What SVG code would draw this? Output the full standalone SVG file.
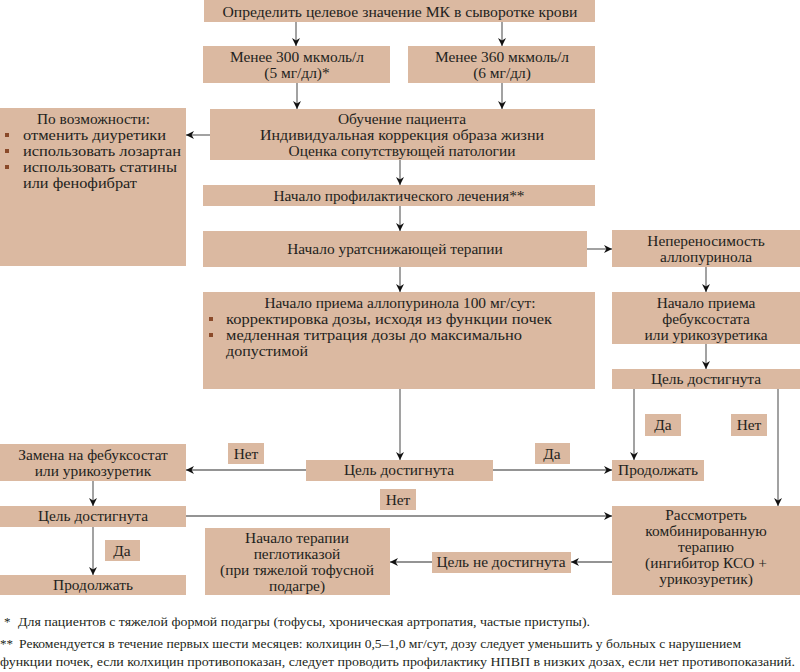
<svg xmlns="http://www.w3.org/2000/svg" width="800" height="672" viewBox="0 0 800 672">
<style>
.b{fill:#DBB9A1}
.t{font-family:"Liberation Serif","DejaVu Serif",serif;font-size:15.4px;fill:#231F20}
.c{text-anchor:middle}
.f{font-family:"Liberation Serif","DejaVu Serif",serif;font-size:13px;fill:#231F20}
.ln{stroke:#707070;stroke-width:1.3;fill:none;marker-end:url(#ah)}
.bu{fill:#8A4A2A}
</style>
<defs>
<marker id="ah" viewBox="0 0 10 10" refX="10" refY="5" markerWidth="9" markerHeight="8" markerUnits="userSpaceOnUse" orient="auto">
<path d="M0,0 L10,5 L0,10 L3,5 Z" fill="#111"/>
</marker>
</defs>
<rect width="800" height="672" fill="#fff"/>
<g id="connectors">
<line class="ln" x1="296" y1="22" x2="296" y2="46"/>
<line class="ln" x1="502" y1="22" x2="502" y2="46"/>
<line class="ln" x1="297" y1="83" x2="297" y2="109"/>
<line class="ln" x1="502" y1="83" x2="502" y2="109"/>
<line class="ln" x1="210" y1="135" x2="186" y2="135"/>
<line class="ln" x1="400" y1="160" x2="400" y2="185"/>
<line class="ln" x1="400" y1="206" x2="400" y2="231"/>
<line class="ln" x1="400" y1="267" x2="400" y2="292"/>
<line class="ln" x1="587" y1="249" x2="612" y2="249"/>
<line class="ln" x1="706" y1="267" x2="706" y2="292"/>
<line class="ln" x1="706" y1="344" x2="706" y2="369"/>
<line class="ln" x1="634" y1="389" x2="634" y2="460"/>
<line class="ln" x1="778" y1="389" x2="778" y2="506"/>
<line class="ln" x1="400" y1="389" x2="400" y2="460"/>
<line class="ln" x1="493" y1="470" x2="612" y2="470"/>
<line class="ln" x1="306" y1="470" x2="186" y2="470"/>
<line class="ln" x1="93" y1="481" x2="93" y2="506"/>
<line class="ln" x1="186" y1="516" x2="612" y2="516"/>
<line class="ln" x1="93" y1="527" x2="93" y2="575"/>
<line class="ln" x1="612" y1="562" x2="571" y2="562"/>
<line class="ln" x1="432" y1="562" x2="390" y2="562"/>
</g>
<g id="n1"><rect class="b" x="204" y="0" width="391" height="22"/><text class="t c" x="400" y="17" textLength="355" lengthAdjust="spacingAndGlyphs">Определить целевое значение МК в сыворотке крови</text></g>
<g id="n2"><rect class="b" x="203" y="46" width="187" height="37"/><text class="t c" x="297" y="62">Менее 300 мкмоль/л</text><text class="t c" x="297" y="78">(5 мг/дл)*</text></g>
<g id="n3"><rect class="b" x="408" y="46" width="187" height="37"/><text class="t c" x="502" y="62">Менее 360 мкмоль/л</text><text class="t c" x="502" y="78">(6 мг/дл)</text></g>
<g id="n4"><rect class="b" x="0" y="108" width="186" height="158"/>
<text class="t" x="37" y="124" textLength="113" lengthAdjust="spacingAndGlyphs">По возможности:</text>
<rect class="bu" x="5" y="133" width="4" height="4"/><text class="t" x="23" y="140" textLength="143" lengthAdjust="spacingAndGlyphs">отменить диуретики</text>
<rect class="bu" x="5" y="149" width="4" height="4"/><text class="t" x="23" y="156" textLength="158" lengthAdjust="spacingAndGlyphs">использовать лозартан</text>
<rect class="bu" x="5" y="165" width="4" height="4"/><text class="t" x="23" y="172" textLength="154" lengthAdjust="spacingAndGlyphs">использовать статины</text>
<text class="t" x="23" y="188" textLength="114" lengthAdjust="spacingAndGlyphs">или фенофибрат</text></g>
<g id="n5"><rect class="b" x="210" y="109" width="385" height="51"/><text class="t c" x="402" y="124">Обучение пациента</text><text class="t c" x="402" y="140" textLength="284" lengthAdjust="spacingAndGlyphs">Индивидуальная коррекция образа жизни</text><text class="t c" x="402" y="156">Оценка сопутствующей патологии</text></g>
<g id="n6"><rect class="b" x="203" y="185" width="392" height="21"/><text class="t c" x="399" y="201">Начало профилактического лечения**</text></g>
<g id="n7"><rect class="b" x="203" y="231" width="384" height="36"/><text class="t c" x="395" y="254">Начало уратснижающей терапии</text></g>
<g id="n8"><rect class="b" x="203" y="292" width="392" height="97"/>
<text class="t c" x="400" y="308">Начало приема аллопуринола 100 мг/сут:</text>
<rect class="bu" x="209" y="317" width="4" height="4"/><text class="t" x="226" y="324" textLength="326" lengthAdjust="spacingAndGlyphs">корректировка дозы, исходя из функции почек</text>
<rect class="bu" x="209" y="333" width="4" height="4"/><text class="t" x="226" y="340" textLength="296" lengthAdjust="spacingAndGlyphs">медленная титрация дозы до максимально</text>
<text class="t" x="226" y="356" textLength="82" lengthAdjust="spacingAndGlyphs">допустимой</text></g>
<g id="n9"><rect class="b" x="612" y="230" width="188" height="37"/><text class="t c" x="706" y="246">Непереносимость</text><text class="t c" x="706" y="262">аллопуринола</text></g>
<g id="n10"><rect class="b" x="612" y="292" width="188" height="52"/><text class="t c" x="706" y="308">Начало приема</text><text class="t c" x="706" y="324">фебуксостата</text><text class="t c" x="706" y="340">или урикозуретика</text></g>
<g id="n11"><rect class="b" x="612" y="369" width="188" height="20"/><text class="t c" x="706" y="384">Цель достигнута</text></g>
<g id="l1"><rect class="b" x="645" y="414" width="36" height="22"/><text class="t c" x="663" y="430">Да</text></g>
<g id="l2"><rect class="b" x="731" y="414" width="36" height="22"/><text class="t c" x="749" y="430">Нет</text></g>
<g id="n12"><rect class="b" x="612" y="460" width="92" height="21"/><text class="t c" x="658" y="475">Продолжать</text></g>
<g id="n13"><rect class="b" x="306" y="460" width="187" height="21"/><text class="t c" x="399" y="475">Цель достигнута</text></g>
<g id="l3"><rect class="b" x="535" y="443" width="35" height="21"/><text class="t c" x="552" y="459">Да</text></g>
<g id="l4"><rect class="b" x="228" y="443" width="36" height="21"/><text class="t c" x="246" y="459">Нет</text></g>
<g id="n14"><rect class="b" x="0" y="444" width="186" height="37"/><text class="t c" x="93" y="460">Замена на фебуксостат</text><text class="t c" x="93" y="476">или урикозуретик</text></g>
<g id="n15"><rect class="b" x="0" y="506" width="186" height="21"/><text class="t c" x="93" y="521">Цель достигнута</text></g>
<g id="l5"><rect class="b" x="380" y="489" width="36" height="21"/><text class="t c" x="398" y="505">Нет</text></g>
<g id="l6"><rect class="b" x="105" y="540" width="35" height="21"/><text class="t c" x="122" y="556">Да</text></g>
<g id="n16"><rect class="b" x="0" y="575" width="186" height="20"/><text class="t c" x="93" y="590">Продолжать</text></g>
<g id="n17"><rect class="b" x="205" y="528" width="185" height="67"/><text class="t c" x="297" y="543">Начало терапии</text><text class="t c" x="297" y="559">пеглотиказой</text><text class="t c" x="297" y="575">(при тяжелой тофусной</text><text class="t c" x="297" y="591">подагре)</text></g>
<g id="n18"><rect class="b" x="432" y="552" width="139" height="21"/><text class="t c" x="501" y="567">Цель не достигнута</text></g>
<g id="n19"><rect class="b" x="612" y="506" width="188" height="89"/><text class="t c" x="706" y="520">Рассмотреть</text><text class="t c" x="706" y="536">комбинированную</text><text class="t c" x="706" y="552">терапию</text><text class="t c" x="706" y="568">(ингибитор КСО +</text><text class="t c" x="706" y="584">урикозуретик)</text></g>
<g id="footnotes">
<text class="f" x="4" y="626">*</text>
<text class="f" x="18" y="626" textLength="572" lengthAdjust="spacingAndGlyphs">Для пациентов с тяжелой формой подагры (тофусы, хроническая артропатия, частые приступы).</text>
<text class="f" x="0" y="648">**</text>
<text class="f" x="19" y="648" textLength="722" lengthAdjust="spacingAndGlyphs">Рекомендуется в течение первых шести месяцев: колхицин 0,5–1,0 мг/сут, дозу следует уменьшить у больных с нарушением</text>
<text class="f" x="0" y="666" textLength="795" lengthAdjust="spacingAndGlyphs">функции почек, если колхицин противопоказан, следует проводить профилактику НПВП в низких дозах, если нет противопоказаний.</text>
</g>
</svg>
